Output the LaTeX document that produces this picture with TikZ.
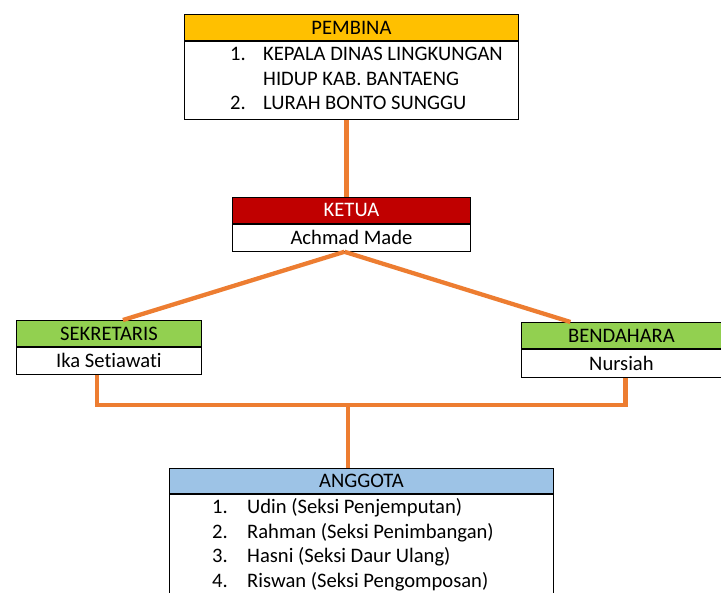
\documentclass[tikz,border=0pt]{standalone}
\usepackage{fontspec}
\setmainfont[Ligatures=NoCommon]{Carlito}
\usetikzlibrary{positioning}
\definecolor{oranye}{HTML}{ED7D31}
\definecolor{emas}{HTML}{FFC000}
\definecolor{merah}{HTML}{C00000}
\definecolor{hijau}{HTML}{92D050}
\definecolor{biru}{HTML}{9DC3E6}
\tikzset{
	judul/.style={draw=black,line width=0.9pt,minimum height=26pt,inner sep=0pt},
	isi/.style={draw=black,fill=white,line width=0.9pt,inner sep=0pt},
	daftar/.style={inner sep=0pt,anchor=north west},
	garis/.style={draw=oranye,line width=4.3pt,line join=miter,line cap=butt},
}
\begin{document}
\begin{tikzpicture}[x=1pt,y=-1pt,font=\fontsize{20.6}{24.7}\selectfont]
				\clip (0,0) rectangle (721,593);
				\fill[white] (0,0) rectangle (721,593);
				% pembina
				\node[judul,fill=emas,minimum width=334pt,anchor=north west] (pembina) at (184,14) {PEMBINA};
				\node[isi,minimum width=334pt,minimum height=78pt,below=0pt of pembina] (pembinaisi) {};
				\node[daftar] (listpembina) at (230,43) {\begin{tabular}{@{}p{33pt}@{}l@{}}
					1. & KEPALA DINAS LINGKUNGAN\\
					   & HIDUP KAB. BANTAENG\\
					2. & LURAH BONTO SUNGGU
				\end{tabular}};
				% ketua
				\node[judul,fill=merah,text=white,minimum width=238pt,anchor=north west] (ketua) at (232,197) {KETUA};
				\node[isi,minimum width=238pt,minimum height=27pt,below=0pt of ketua] (ketuaisi) {Achmad Made};
				% sekretaris dan bendahara
				\node[judul,fill=hijau,minimum width=185pt,anchor=north west] (sekretaris) at (16,320) {SEKRETARIS};
				\node[isi,minimum width=185pt,minimum height=27pt,below=0pt of sekretaris] (sekretarisisi) {Ika Setiawati};
				\node[judul,fill=hijau,minimum width=200pt,anchor=north west] (bendahara) at (521,322) {BENDAHARA};
				\node[isi,minimum width=200pt,minimum height=28pt,below=0pt of bendahara] (bendaharaisi) {Nursiah};
				% anggota
				\node[judul,fill=biru,minimum width=384pt,minimum height=25pt,anchor=north west] (anggota) at (169,468) {ANGGOTA};
				\node[isi,minimum width=384pt,minimum height=120pt,below=0pt of anggota] (anggotaisi) {};
				\node[daftar] (listanggota) at (212,496) {\begin{tabular}{@{}p{35pt}@{}l@{}}
					1. & Udin (Seksi Penjemputan)\\
					2. & Rahman (Seksi Penimbangan)\\
					3. & Hasni (Seksi Daur Ulang)\\
					4. & Riswan (Seksi Pengomposan)
				\end{tabular}};
				% garis penghubung
				\path (348,405) coordinate (tengah);
				\draw[garis] ([xshift=-5pt]pembinaisi.south) -- ([xshift=-5pt]ketua.north);
				\draw[garis] ([xshift=-7pt]ketuaisi.south) -- ([xshift=14pt]sekretaris.north);
				\draw[garis] ([xshift=-7pt]ketuaisi.south) -- ([xshift=-51pt]bendahara.north);
				\draw[garis] ([xshift=-12pt]sekretarisisi.south) |- (tengah) -| ([xshift=4pt]bendaharaisi.south);
				\draw[garis] (tengah) -- (anggota.north -| tengah);
			\end{tikzpicture}
\end{document}
